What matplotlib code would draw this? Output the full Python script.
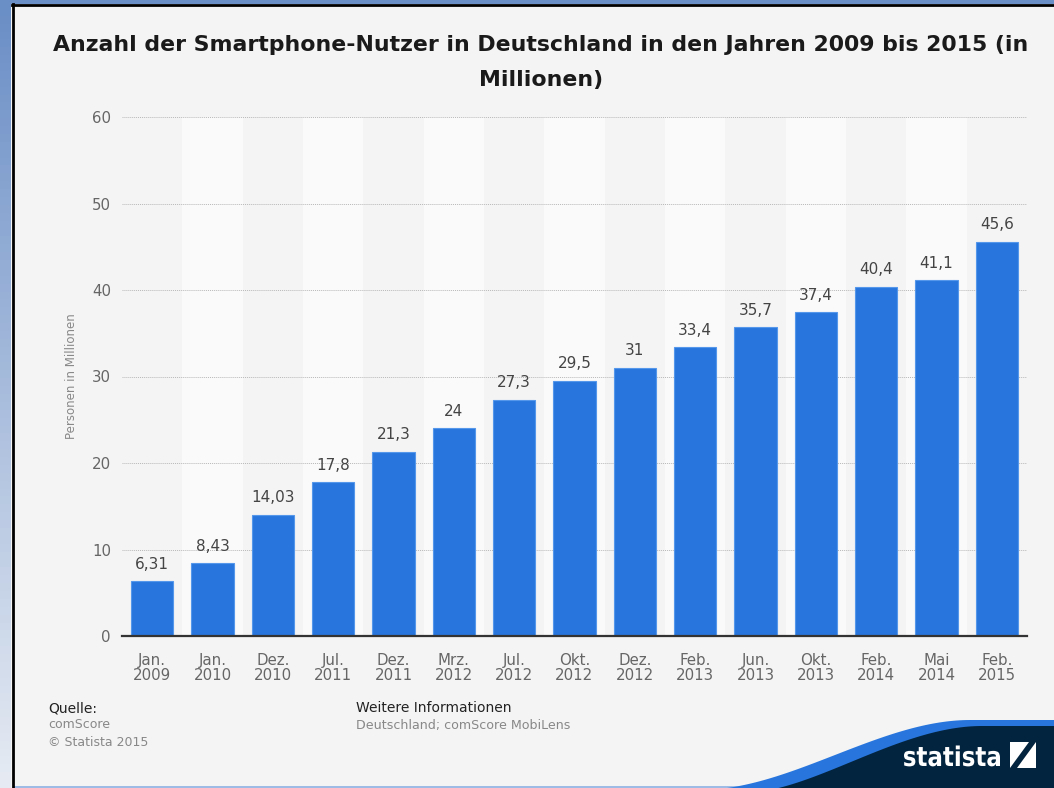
import numpy as np
import matplotlib
matplotlib.use("Agg")
import matplotlib.pyplot as plt
from matplotlib.patches import Polygon, Rectangle, PathPatch
from matplotlib.textpath import TextPath
from matplotlib.font_manager import FontProperties
from matplotlib.transforms import Affine2D

plt.rcParams["font.family"] = ["DejaVu Sans"]

BAR = "#2876dd"
NAVY = "#03243e"
BG = "#f4f4f4"
STRIPE = "#fafafa"

# data
categories = ["Jan.\n2009", "Jan.\n2010", "Dez.\n2010", "Jul.\n2011", "Dez.\n2011",
              "Mrz.\n2012", "Jul.\n2012", "Okt.\n2012", "Dez.\n2012", "Feb.\n2013",
              "Jun.\n2013", "Okt.\n2013", "Feb.\n2014", "Mai\n2014", "Feb.\n2015"]
values = [6.31, 8.43, 14.03, 17.8, 21.3, 24, 27.3, 29.5, 31, 33.4,
          35.7, 37.4, 40.4, 41.1, 45.6]
yticks = [0, 10, 20, 30, 40, 50, 60]

W, H = 1054, 788
fig = plt.figure(figsize=(W / 100, H / 100), dpi=100, facecolor=BG)

# ── chart ──────────────────────────────────────────
ax = fig.add_axes([122 / W, 1 - 636 / H, (1027 - 122) / W, (636 - 117) / H])
ax.set_facecolor(BG)
x = np.arange(len(values))
for i in x[1::2]:
    ax.axvspan(i - 0.5, i + 0.5, color=STRIPE, zorder=0, lw=0)
ax.bar(x, values, width=0.7, color=BAR, edgecolor="#5597ea", linewidth=0.8, zorder=3)
for xi, v in zip(x, values):
    ax.text(xi, v + 1.1, f"{v:g}".replace(".", ","), ha="center", va="bottom",
            fontsize=11, color="#444444", zorder=4)

ax.set_xlim(-0.5, len(values) - 0.5)
ax.set_ylim(0, 60)
ax.set_yticks(yticks)
ax.set_xticks(x)
ax.set_xticklabels(categories, fontsize=10.8, color="#666666", linespacing=1.05)
ax.tick_params(axis="y", length=0, pad=8, labelsize=10.8, labelcolor="#666666")
ax.tick_params(axis="x", length=0, pad=12)
ax.yaxis.grid(True, linestyle=(0, (1, 1)), color="#b8b8b8", linewidth=0.7, zorder=1)
ax.set_axisbelow(True)
for s in ["top", "right", "left"]:
    ax.spines[s].set_visible(False)
ax.spines["bottom"].set_color("#333333")
ax.spines["bottom"].set_linewidth(1.6)
ax.spines["bottom"].set_zorder(5)
ax.set_ylabel("Personen in Millionen", fontsize=8.5, color="#888888", labelpad=10)

# ── texts ──────────────────────────────────────────
fig.text(541 / W, 1 - 62.5 / H,
         "Anzahl der Smartphone-Nutzer in Deutschland in den Jahren 2009 bis 2015 (in\nMillionen)",
         ha="center", va="center", fontsize=15.8, fontweight="bold", color="#1a1a1a",
         linespacing=1.92)
fig.text(48 / W, 1 - 708 / H, "Quelle:", fontsize=10, color="#222222", va="center")
fig.text(48 / W, 1 - 725 / H, "comScore", fontsize=9, color="#888888", va="center")
fig.text(48 / W, 1 - 742 / H, "© Statista 2015", fontsize=9, color="#888888", va="center")
fig.text(356 / W, 1 - 708 / H, "Weitere Informationen", fontsize=10, color="#222222", va="center")
fig.text(356 / W, 1 - 725 / H, "Deutschland; comScore MobiLens", fontsize=9.1, color="#888888", va="center")

# ── decoration: frame, swoosh, logo ────────────────
deco = fig.add_axes([0, 0, 1, 1], zorder=-1)
deco.set_xlim(0, W)
deco.set_ylim(H, 0)
deco.axis("off")
deco.patch.set_alpha(0)

grad = np.linspace(0, 1, 100).reshape(-1, 1)
deco.imshow(grad, extent=(0, 11, H, 0), aspect="auto",
            cmap=matplotlib.colors.LinearSegmentedColormap.from_list("g", ["#6a8ec6", "#e6ebf3"]))
deco.add_patch(Rectangle((0, 0), W, 3.5, color="#6a8ec6", lw=0))
deco.plot([12.5, 12.5], [4, H], color="black", lw=2.0)
deco.plot([12, W], [4.5, 4.5], color="black", lw=2.0)
deco.add_patch(Rectangle((13, 785.5), W, 3, color="#9dbbe5", lw=0))

t = np.linspace(0, 1, 80)
s = t * t * (3 - 2 * t)
cx = 700 + t * 270
cy_blue = 790 - 70 * s
cy_navy = 792 - 66 * (s ** 0.85)
cx_navy = 752 + t * 230
blue = np.column_stack([np.r_[cx, W, W], np.r_[cy_blue, 720, 790]])
deco.add_patch(Polygon(blue, closed=True, color=BAR, lw=0))
navy = np.column_stack([np.r_[cx_navy, W, W], np.r_[cy_navy, 726, 790]])
deco.add_patch(Polygon(navy, closed=True, color=NAVY, lw=0))

# condensed "statista" wordmark
tp = TextPath((0, 0), "statista", size=27, prop=FontProperties(family="DejaVu Sans", weight="bold"))
bb = tp.get_extents()
sx = 96 / bb.width
tr = Affine2D().translate(-bb.x0, 0).scale(sx, -1).translate(904, 766)
deco.add_patch(PathPatch(tr.transform_path(tp), color="white", lw=0))
deco.add_patch(Rectangle((1010, 742), 26, 26, color="white", lw=0))
deco.add_patch(Polygon([[1010, 768], [1017, 768], [1036, 742], [1029, 742]],
                       closed=True, color=NAVY, lw=0))

fig.savefig("out.png", dpi=100, facecolor=BG)
